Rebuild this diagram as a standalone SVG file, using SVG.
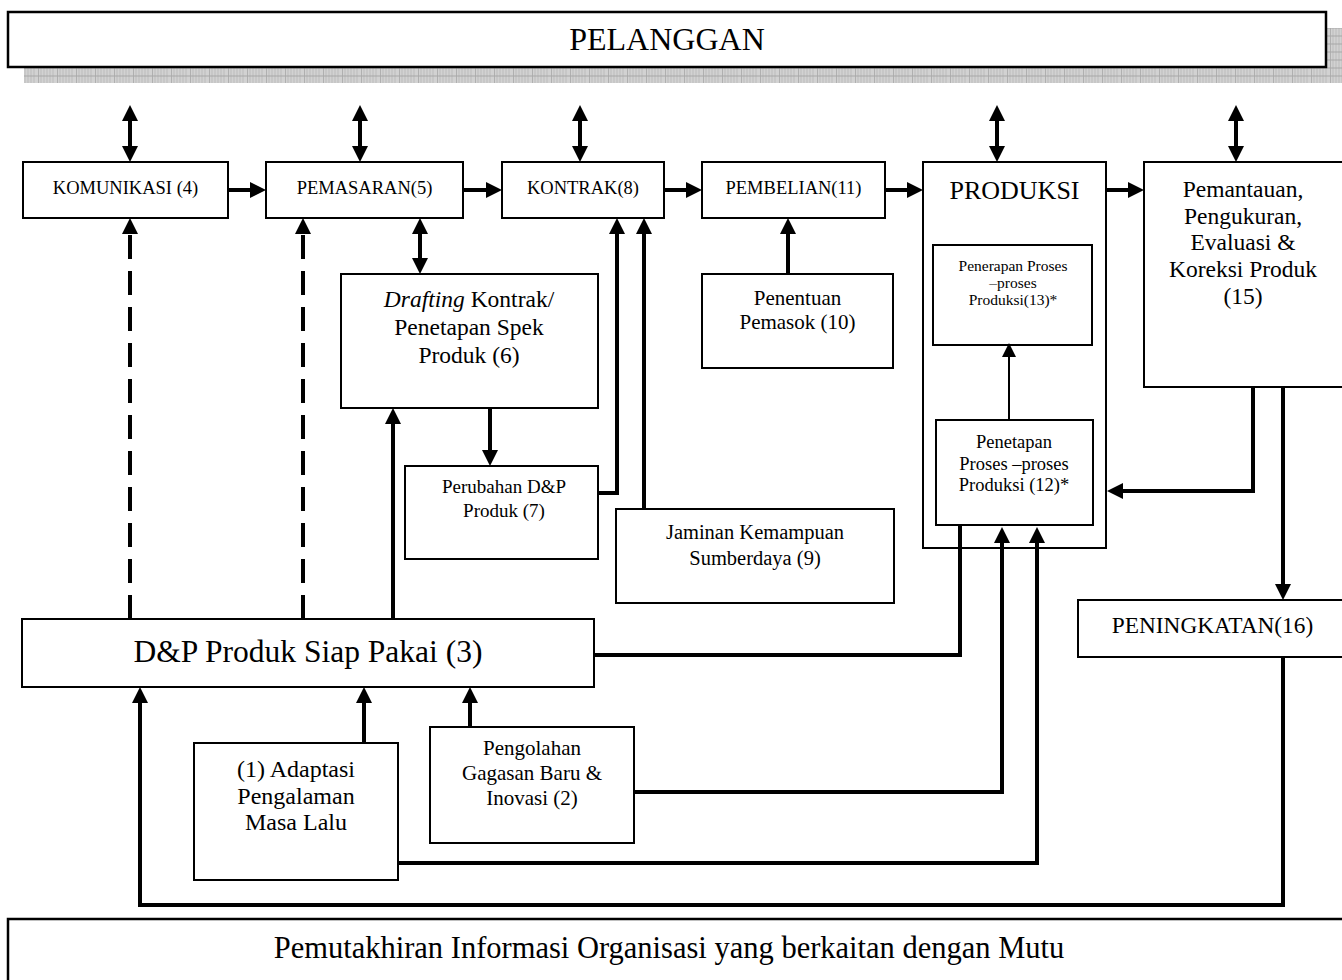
<svg xmlns="http://www.w3.org/2000/svg" width="1342" height="980" viewBox="0 0 1342 980">
<style>
.box{fill:#fff;stroke:#000;stroke-width:2}
.hdr{fill:#fff;stroke:#000;stroke-width:2.5}
.t{font-family:"Liberation Serif","Times New Roman",serif;fill:#000;text-anchor:middle}
.c{fill:none;stroke:#000;stroke-width:4;stroke-linejoin:miter}
.a{marker-end:url(#ah)}
.d{marker-start:url(#ah);marker-end:url(#ah)}
.dash{stroke-dasharray:24 12}
.thin{fill:none;stroke:#000;stroke-width:2;marker-end:url(#ahs)}
</style>
<defs>
<marker id="ah" markerUnits="userSpaceOnUse" markerWidth="16" markerHeight="16" refX="8" refY="8" orient="auto-start-reverse" viewBox="0 0 16 16">
<path d="M0,0 L16,8 L0,16 z" fill="#000"/>
</marker>
<marker id="ahs" markerUnits="userSpaceOnUse" markerWidth="14" markerHeight="14" refX="6" refY="7" orient="auto" viewBox="0 0 14 14">
<path d="M0,0 L14,7 L0,14 z" fill="#000"/>
</marker>
<pattern id="grid" patternUnits="userSpaceOnUse" width="19" height="8">
<rect width="19" height="8" fill="#d2d2d2"/>
<path d="M3,0V8M6,0V8M9,0V8M12,0V8M15,0V8" stroke="#bcbcbc" stroke-width="1"/>
<path d="M0,0V8" stroke="#8e8e8e" stroke-width="1"/>
<path d="M0,4H19" stroke="#a8a8a8" stroke-width="1"/>
</pattern>
</defs>

<g id="pelanggan">
<rect x="24" y="28" width="1320" height="55" fill="url(#grid)"/>
<rect class="hdr" x="8" y="12" width="1318" height="55"/>
<text class="t" x="667" y="50" font-size="32">PELANGGAN</text>
</g>

<g id="komunikasi"><rect class="box" x="23" y="162" width="205" height="56"/><text class="t" x="125.5" y="194" font-size="18.5">KOMUNIKASI (4)</text></g>
<g id="pemasaran"><rect class="box" x="266" y="162" width="197" height="56"/><text class="t" x="364.5" y="194" font-size="18.5">PEMASARAN(5)</text></g>
<g id="kontrak"><rect class="box" x="502" y="162" width="162" height="56"/><text class="t" x="583" y="194" font-size="18.5">KONTRAK(8)</text></g>
<g id="pembelian"><rect class="box" x="702" y="162" width="183" height="56"/><text class="t" x="793.5" y="194" font-size="18.5">PEMBELIAN(11)</text></g>

<g id="produksi"><rect class="box" x="923" y="162" width="183" height="386"/><text class="t" x="1014.5" y="199" font-size="26">PRODUKSI</text></g>
<g id="penerapan"><rect class="box" x="933" y="245" width="159" height="100"/>
<text class="t" font-size="15.5"><tspan x="1013" y="271">Penerapan Proses</tspan><tspan x="1013" y="288">–proses</tspan><tspan x="1013" y="305">Produksi(13)*</tspan></text></g>
<g id="penetapan"><rect class="box" x="936" y="420" width="157" height="105"/>
<text class="t" font-size="18.5"><tspan x="1014" y="448">Penetapan</tspan><tspan x="1014" y="470">Proses –proses</tspan><tspan x="1014" y="491">Produksi (12)*</tspan></text></g>

<g id="pemantauan"><rect class="box" x="1144" y="162" width="212" height="225"/>
<text class="t" font-size="23.5"><tspan x="1243" y="197">Pemantauan,</tspan><tspan x="1243" y="223.5">Pengukuran,</tspan><tspan x="1243" y="250">Evaluasi &amp;</tspan><tspan x="1243" y="277">Koreksi Produk</tspan><tspan x="1243" y="303.5">(15)</tspan></text></g>

<g id="peningkatan"><rect class="box" x="1078" y="600" width="278" height="57"/><text class="t" x="1212.5" y="633" font-size="23.3">PENINGKATAN(16)</text></g>

<g id="drafting"><rect class="box" x="341" y="274" width="257" height="134"/>
<text class="t" font-size="23.5"><tspan x="469" y="307"><tspan font-style="italic">Drafting</tspan> Kontrak/</tspan><tspan x="469" y="335">Penetapan Spek</tspan><tspan x="469" y="363">Produk (6)</tspan></text></g>

<g id="perubahan"><rect class="box" x="405" y="466" width="193" height="93"/>
<text class="t" font-size="19"><tspan x="504" y="493">Perubahan D&amp;P</tspan><tspan x="504" y="517">Produk (7)</tspan></text></g>

<g id="jaminan"><rect class="box" x="616" y="509" width="278" height="94"/>
<text class="t" font-size="20.5"><tspan x="755" y="539">Jaminan Kemampuan</tspan><tspan x="755" y="565">Sumberdaya (9)</tspan></text></g>

<g id="penentuan"><rect class="box" x="702" y="274" width="191" height="94"/>
<text class="t" font-size="21"><tspan x="797.5" y="305">Penentuan</tspan><tspan x="797.5" y="329">Pemasok (10)</tspan></text></g>

<g id="dp"><rect class="box" x="22" y="619" width="572" height="68"/><text class="t" x="308" y="662" font-size="31.5">D&amp;P Produk Siap Pakai (3)</text></g>

<g id="adaptasi"><rect class="box" x="194" y="743" width="204" height="137"/>
<text class="t" font-size="24"><tspan x="296" y="777">(1) Adaptasi</tspan><tspan x="296" y="804">Pengalaman</tspan><tspan x="296" y="830">Masa Lalu</tspan></text></g>

<g id="pengolahan"><rect class="box" x="430" y="727" width="204" height="116"/>
<text class="t" font-size="21"><tspan x="532" y="755">Pengolahan</tspan><tspan x="532" y="780">Gagasan Baru &amp;</tspan><tspan x="532" y="805">Inovasi (2)</tspan></text></g>

<g id="pemutakhiran"><rect class="hdr" x="8" y="919" width="1345" height="70"/><text class="t" x="669" y="958" font-size="30.5">Pemutakhiran Informasi Organisasi yang berkaitan dengan Mutu</text></g>

<g id="connectors">
<path class="c d" d="M130,113 L130,154"/>
<path class="c d" d="M360,113 L360,154"/>
<path class="c d" d="M580,113 L580,154"/>
<path class="c d" d="M997,113 L997,154"/>
<path class="c d" d="M1236,113 L1236,154"/>
<path class="c a" d="M228,190 L258,190"/>
<path class="c a" d="M463,190 L494,190"/>
<path class="c a" d="M664,190 L694,190"/>
<path class="c a" d="M885,190 L915,190"/>
<path class="c a" d="M1106,190 L1136,190"/>
<path class="c a dash" d="M130,619 L130,226"/>
<path class="c a dash" d="M303,619 L303,226"/>
<path class="c d" d="M420,226 L420,266"/>
<path class="c a" d="M393,619 L393,416"/>
<path class="c a" d="M490,408 L490,458"/>
<path class="c a" d="M598,493 L617,493 L617,226"/>
<path class="c a" d="M644,509 L644,226"/>
<path class="c a" d="M788,274 L788,226"/>
<path class="thin" d="M1009,420 L1009,351"/>
<path class="c a" d="M1253,387 L1253,491 L1115,491"/>
<path class="c a" d="M1283,387 L1283,592"/>
<path class="c a" d="M1283,657 L1283,905 L140,905 L140,695"/>
<path class="c" d="M594,655 L960,655 L960,525"/>
<path class="c a" d="M634,792 L1002,792 L1002,535"/>
<path class="c a" d="M398,863 L1037,863 L1037,535"/>
<path class="c a" d="M364,743 L364,695"/>
<path class="c a" d="M470,727 L470,695"/>
</g>
</svg>
